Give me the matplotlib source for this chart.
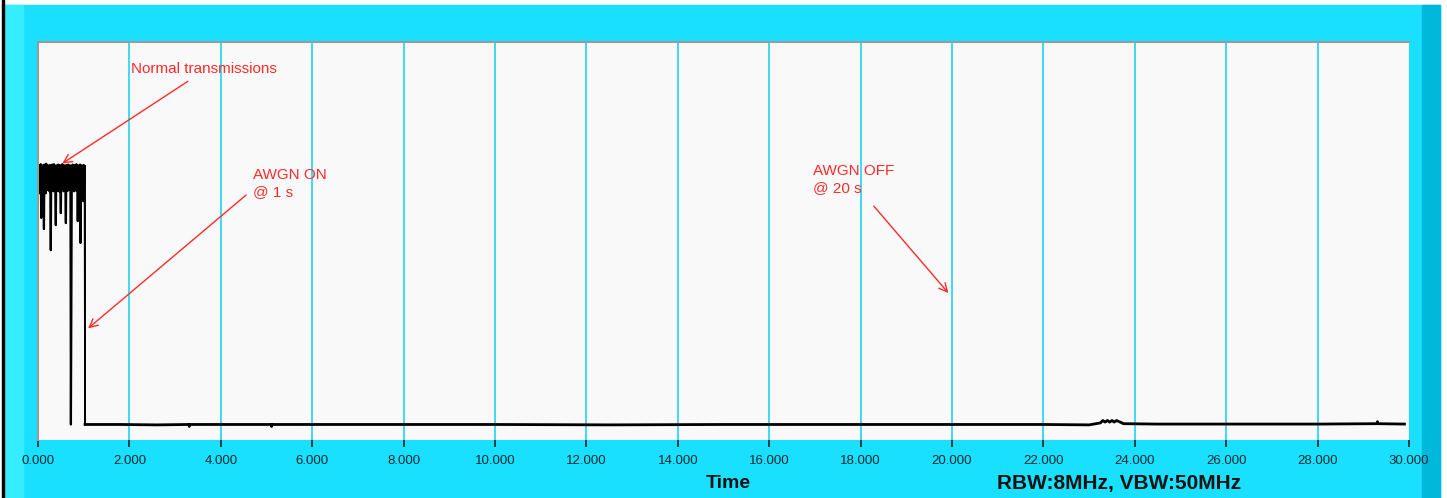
import numpy as np
import matplotlib
matplotlib.use("Agg")
from matplotlib import pyplot as plt
from matplotlib.patches import Rectangle

# burst before the jammer is switched on, one value per 10 ms
burst_vals = [69, 62, 68.5, 63, 69.3, 55.8, 68.8, 63, 69, 62.5,
              68.7, 53, 69.2, 63, 68.9, 62, 69.4, 63.5, 68.6, 62.8,
              69, 63, 68.8, 62.5, 69.1, 63.2, 47.7, 68.9, 62.7, 69.2,
              63, 68.7, 62.5, 69.3, 63.1, 68.8, 62.9, 54, 69, 63.4,
              68.6, 62.6, 69.2, 63, 68.9, 62.4, 69.1, 63.3, 57, 68.8,
              62.8, 69.3, 63, 68.7, 62.5, 69, 63.2, 68.9, 62.7, 54.5,
              69.1, 63, 68.8, 62.6, 69.2, 63.1, 68.7, 62.9, 69, 63.5,
              3.9, 34.4, 68.9, 62.8, 69.2, 63, 68.6, 62.5, 69.1, 63.2,
              68.8, 62.7, 69.3, 63, 68.9, 55, 69, 63.4, 68.7, 62.6,
              69.2, 49.5, 68.8, 63.1, 69, 62.9, 68.7, 60, 69.1, 63, 68.8]
burst_t = np.arange(len(burst_vals)) * 0.01 + 0.02

# floor while jammed / after
base_t = [1.03, 1.8, 2.6, 3.3, 3.31, 3.32, 5.1, 5.11, 5.12, 7.5, 10.0, 12.5, 15.0, 17.5, 20.0,
          22.0, 23.0, 23.25, 23.3, 23.35, 23.4, 23.45, 23.5, 23.55, 23.6, 23.7, 23.75,
          24.5, 26.0, 28.0, 29.3, 29.31, 29.32, 29.9]
base_v = [3.9, 3.9, 3.8, 3.9, 3.4, 3.9, 3.9, 3.4, 3.9, 3.9, 3.9, 3.8, 3.9, 3.9, 3.9,
          3.9, 3.8, 4.3, 4.9, 4.5, 4.9, 4.5, 4.9, 4.5, 4.9, 4.4, 4.1,
          4.0, 4.0, 4.0, 4.1, 4.6, 4.1, 4.0]

xticks = np.arange(0, 31, 2)
xlabels = ["%.3f" % v for v in xticks]

cyan = "#19e0ff"
red = "#ff2a2a"

fig = plt.figure(figsize=(14.47, 4.98), dpi=100, facecolor="white")
W, H = 1447, 498
def frect(x, y, w, h, c):
    fig.patches.append(Rectangle((x / W, 1 - (y + h) / H), w / W, h / H,
                                 transform=fig.transFigure, color=c, zorder=-10))
frect(5, 5, 1435, 493, cyan)
frect(5, 5, 18, 493, "#36ecff")
frect(1422, 5, 18, 493, "#00b8dc")
frect(2, 0, 2, 498, "black")

ax = fig.add_axes([38 / W, 58 / H, 1371 / W, 398 / H])
ax.set_zorder(5)
ax.set_facecolor("#f9f9f9")
ax.plot(burst_t, burst_vals, color="black", lw=1.6)
ax.plot([burst_t[-1], base_t[0]], [burst_vals[-1], base_v[0]], color="black", lw=1.3)
ax.plot([base_t[0], base_t[0]], [burst_vals[-1], base_v[0]], color="black", lw=1.3)
ax.plot(base_t, base_v, color="black", lw=2)

ax.set_xlim(0, 30)
ax.set_ylim(0, 100)
ax.set_yticks([])
ax.set_xticks(xticks)
ax.set_xticklabels(xlabels, family="Liberation Sans", fontsize=9.5, color="#0d2a30")
ax.tick_params(axis="x", direction="out", length=5, width=1.2, color="#222222", pad=6)
for g in xticks[1:-1]:
    ax.axvline(g, color="#22d4f2", lw=1.2, zorder=0)
for s in ["bottom", "right"]:
    ax.spines[s].set_visible(False)
for s in ["top", "left"]:
    ax.spines[s].set_color("#9a9a9a")
    ax.spines[s].set_linewidth(1.5)

fig.text(728 / W, 1 - 483 / H, "Time", ha="center", va="center", zorder=10,
         family="Liberation Sans", fontsize=14, weight="bold", color="#111111")
fig.text(1119 / W, 1 - 483 / H, "RBW:8MHz, VBW:50MHz", ha="center", va="center", zorder=10,
         family="Liberation Sans", fontsize=15, weight="bold", color="#111111")

aprops = dict(arrowstyle="->", color=red, lw=1, mutation_scale=15)
tfont = dict(family="Liberation Sans", fontsize=11, color=red)
ax.text(2.03, 93.2, "Normal transmissions", va="center", **tfont)
ax.annotate("", xy=(0.48, 69.1), xytext=(3.33, 90.5), arrowprops=aprops)
ax.text(4.70, 68.3, "AWGN ON\n@ 1 s", va="top", linespacing=1.25, **tfont)
ax.annotate("", xy=(1.05, 27.6), xytext=(4.6, 62), arrowprops=aprops)
ax.text(16.96, 69.3, "AWGN OFF\n@ 20 s", va="top", linespacing=1.25, **tfont)
ax.annotate("", xy=(19.96, 36.4), xytext=(18.25, 59.3), arrowprops=aprops)

fig.savefig("out.png", dpi=100, facecolor="white")
